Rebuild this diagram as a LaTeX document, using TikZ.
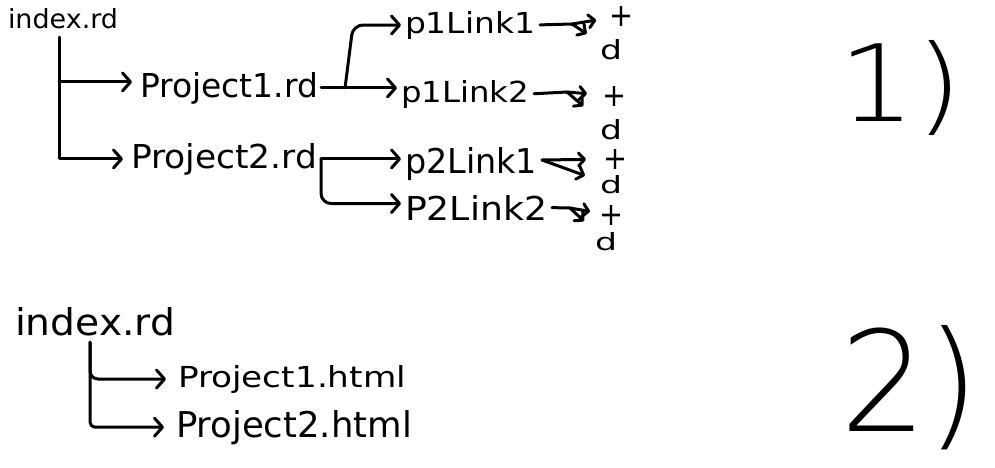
\documentclass[tikz,border=0pt]{standalone}
\usepackage{fontspec}
\setmainfont{DejaVu Sans}
\newfontfamily\thinfont{DejaVuSans-ExtraLight}[Extension=.ttf]
\usepackage{graphicx}
\usetikzlibrary{arrows.meta,calc}
\newcommand\hw[3]{\resizebox{#1pt}{#2pt}{#3}}
\begin{document}
\begin{tikzpicture}[x=1pt,y=-1pt,
  lbl/.style={inner sep=0pt,outer sep=0pt,anchor=base west},
  sym/.style={inner sep=0pt,outer sep=0pt},
  ln/.style={line width=3pt,line cap=round,line join=round},
  arr/.style={ln,-{Straight Barb[length=8pt,width=18pt,round]}},
  farr/.style={ln,-{Straight Barb[length=6pt,width=13pt,round]}}]
\fill[white] (0,0) rectangle (995,467);
\useasboundingbox (0,0) rectangle (995,467);

% ---- diagram 1 ----
\node[lbl] (i1) at (8,28) {\hw{110}{20}{index.rd}};
\node[lbl] (pr1) at (140,97) {\hw{178}{25}{Project1.rd}};
\node[lbl] (pr2) at (131,168) {\hw{186}{25}{Project2.rd}};
\node[lbl] (l11) at (405,33) {\hw{130}{22}{p1Link1}};
\node[lbl] (l12) at (401,102) {\hw{128}{22}{p1Link2}};
\node[lbl] (l21) at (405,173) {\hw{132}{26}{p2Link1}};
\node[lbl] (l22) at (405,220) {\hw{142}{25}{P2Link2}};

\coordinate (t1) at (59,37);
\coordinate (a1) at ([yshift=6pt]pr1.west);
\draw[arr, shorten >=8pt] (t1) |- (pr2.west);
\draw[arr, shorten >=8pt] (t1 |- a1) -- (a1);

\draw[arr, shorten <=3pt, shorten >=4pt] (pr1.east) -- (pr1.east -| l12.west);
\coordinate (b1) at ($(pr1.east)+(27,0)$);
\draw[arr, rounded corners=10pt, shorten >=4pt] (b1) -- ([xshift=8pt]b1 |- l11.west) -- (l11.west);

\coordinate (b2) at ($(pr2.east)+(4,0)$);
\draw[arr, shorten >=4pt] (b2) -- (b2 -| l21.west);
\coordinate (a2) at ([yshift=4pt]l22.west);
\draw[arr, rounded corners=10pt, shorten >=4pt] (b2) |- (a2);

% forks
\node[sym] (s1p) at (621,16) {\hw{24}{20}{+}};
\node[sym] (s1d) at (611,50) {\hw{22}{20}{d}};
\node[sym] (s2p) at (614,96) {\hw{24}{20}{+}};
\node[sym] (s2d) at (611,130) {\hw{22}{20}{d}};
\node[sym] (s3p) at (615,159) {\hw{24}{20}{+}};
\node[sym] (s3d) at (611,185) {\hw{22}{18}{d}};
\node[sym] (s4p) at (611,215) {\hw{24}{20}{+}};
\node[sym] (s4d) at (606,242) {\hw{22}{18}{d}};

\coordinate (f1) at (572,24);
\coordinate (f2) at (567,92);
\coordinate (f3) at (542,160);
\coordinate (f4) at (570,208);
\draw[ln, shorten <=5pt] (l11.east) -- (f1);
\draw[ln, shorten <=5pt] (l12.east) -- (f2);
\draw[ln, shorten <=5pt] (l22.east) -- (f4);
\draw[farr, shorten >=13pt] (f1) -- (s1p);
\draw[farr, shorten >=16pt] (f1) -- (s1d);
\draw[farr, shorten >=15pt] (f2) -- (s2p);
\draw[farr, shorten >=22pt] (f2) -- (s2d);
\draw[farr, shorten >=17pt] (f3) -- (s3p);
\draw[farr, shorten >=16pt] (f3) -- (s3d);
\draw[farr, shorten >=9pt] (f4) -- (s4p);
\draw[farr, shorten >=17pt] (f4) -- (s4d);

% ---- diagram 2 ----
\node[lbl] (i2) at (15,335) {\hw{160}{28}{index.rd}};
\node[lbl] (h1) at (178,387) {\hw{228}{22}{Project1.html}};
\node[lbl] (h2) at (176,437) {\hw{236}{27}{Project2.html}};
\coordinate (t2) at (90,342);
\draw[arr, rounded corners=8pt, shorten >=12pt] (t2) |- (h1.west);
\draw[arr, rounded corners=5pt, shorten >=12pt] (t2) |- (h2.west);

% ---- labels ----
\node[lbl] (n1) at (838,121) {\thinfont\hw{125}{81}{1)}};
\node[lbl] (n2) at (840,431) {\thinfont\hw{140}{106}{2)}};
\end{tikzpicture}
\end{document}
